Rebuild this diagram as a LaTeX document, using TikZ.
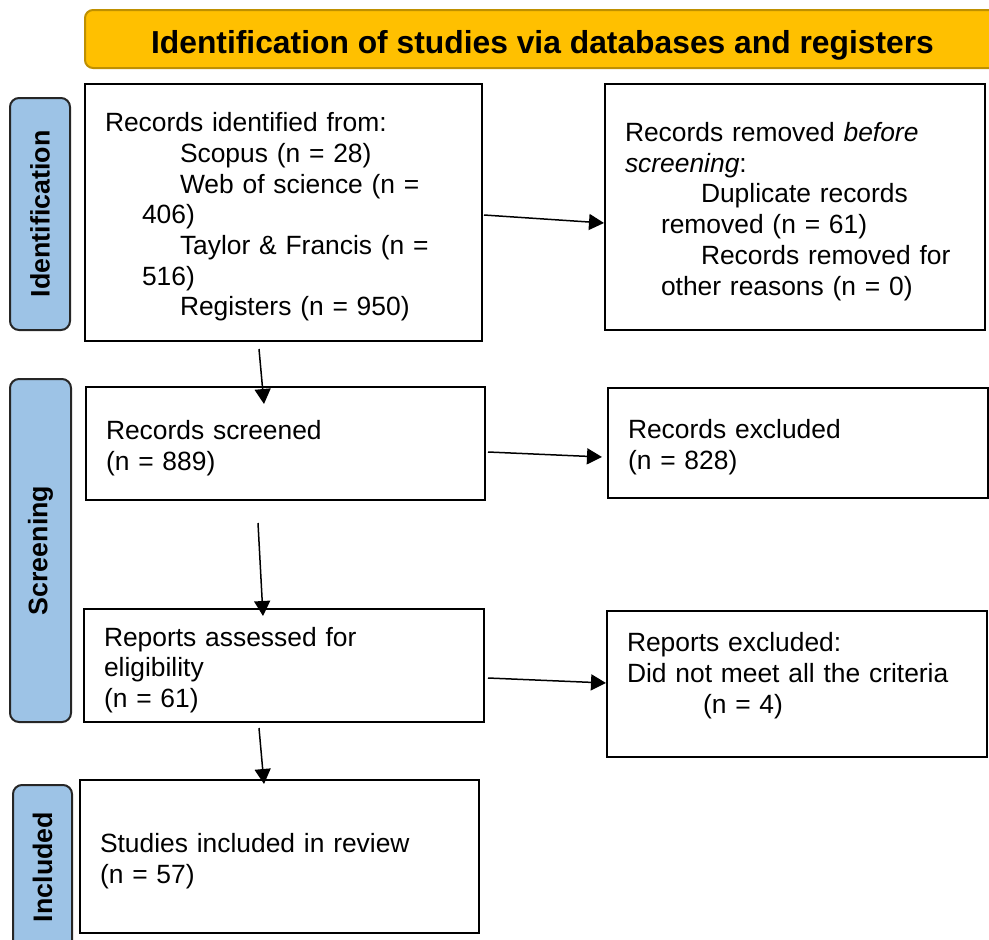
\documentclass[tikz,border=0pt]{standalone}
\usepackage{fontspec}
\setmainfont{Liberation Sans}
\usetikzlibrary{arrows.meta,calc}
\definecolor{phasefill}{HTML}{9DC3E6}
\definecolor{headerfill}{HTML}{FFC000}
\definecolor{headerline}{HTML}{BF9000}
\tikzset{
x=1pt,
y=-1pt,
>={Triangle[length=15pt,width=16pt]},
every node/.style={font=\fontsize{26.4}{30.7}\selectfont},
box/.style={draw, line width=2pt, align=left, inner sep=0pt, execute at begin node={\rule{0pt}{28pt}}},
phase/.style={draw=black!85, line width=2pt, fill=phasefill, rounded corners=9pt, rotate=90, inner sep=0pt, font=\fontsize{26.8}{30}\selectfont\bfseries},
header/.style={draw=headerline, line width=2pt, fill=headerfill, rounded corners=8pt, minimum width=915pt, minimum height=58pt, text height=28pt, text depth=0pt, font=\fontsize{31.8}{36}\selectfont\bfseries},
flow/.style={->, line width=1.5pt},
}

\begin{document}
\begin{tikzpicture}

    \useasboundingbox (0,0) rectangle (989,940);

    \node[header] (title) at (542.5,39) {Identification of studies via databases and registers};

    \node[phase, minimum width=232pt, minimum height=60pt] (idphase) at (40,214) {Identification};
    \node[phase, minimum width=343pt, minimum height=61pt] (scrphase) at (40.5,550.5) {Screening};
    \node[phase, minimum width=164pt, minimum height=59pt] (incphase) at (42.5,867) {Included};

    \node[box, minimum width=397pt, minimum height=257pt, text width=357pt] (ident) at (283.5,212.5)
        {Records identified from:\\
        \hspace*{75pt}Scopus (n = 28)\\
        \hspace*{75pt}Web of science (n =\\
        \hspace*{37pt}406)\\
        \hspace*{75pt}Taylor \& Francis (n =\\
        \hspace*{37pt}516)\\
        \hspace*{75pt}Registers (n = 950)};
    \node[box, minimum width=380pt, minimum height=246pt, text width=340pt] (removed) at (795,207)
        {Records removed \textit{before}\\
        \textit{screening}:\\
        \hspace*{76pt}Duplicate records\\
        \hspace*{36pt}removed (n = 61)\\
        \hspace*{76pt}Records removed for\\
        \hspace*{36pt}other reasons (n = 0)};

    \node[box, minimum width=399pt, minimum height=113pt, text width=359pt] (screened) at (285.5,443.5)
        {Records screened\\(n = 889)};
    \node[box, minimum width=380pt, minimum height=110pt, text width=340pt] (excluded) at (798,443)
        {Records excluded\\(n = 828)};

    \node[box, minimum width=400pt, minimum height=113pt, text width=360pt] (assessed) at (284,665.5)
        {Reports assessed for\\eligibility\\(n = 61)};
    \node[box, minimum width=380pt, minimum height=146pt, text width=340pt] (repexcl) at (797,684)
        {Reports excluded:\\Did not meet all the criteria\\\hspace*{76pt}(n = 4)\\\mbox{}};

    \node[box, minimum width=399pt, minimum height=153pt, text width=359pt] (studies) at (279.5,856.5)
        {Studies included in review\\(n = 57)};

    \draw[flow] ($(ident.east)+(1,2.5)$) -- ($(removed.west)+(0,16)$);
    \draw[flow] ($(screened.east)+(2,8.5)$) -- ($(excluded.west)+(-5,14)$);
    \draw[flow] ($(assessed.east)+(3,12.5)$) -- ($(repexcl.west)+(0,-1)$);

    \draw[flow] ($(ident.south)+(-24.5,7)$) -- ($(screened.north)+(-21.5,18)$);
    \draw[flow] ($(screened.south)+(-27.5,22)$) -- ($(assessed.north)+(-21,8)$);
    \draw[flow] ($(assessed.south)+(-25,5)$) -- ($(studies.north)+(-15.5,5)$);

\end{tikzpicture}
\end{document}
